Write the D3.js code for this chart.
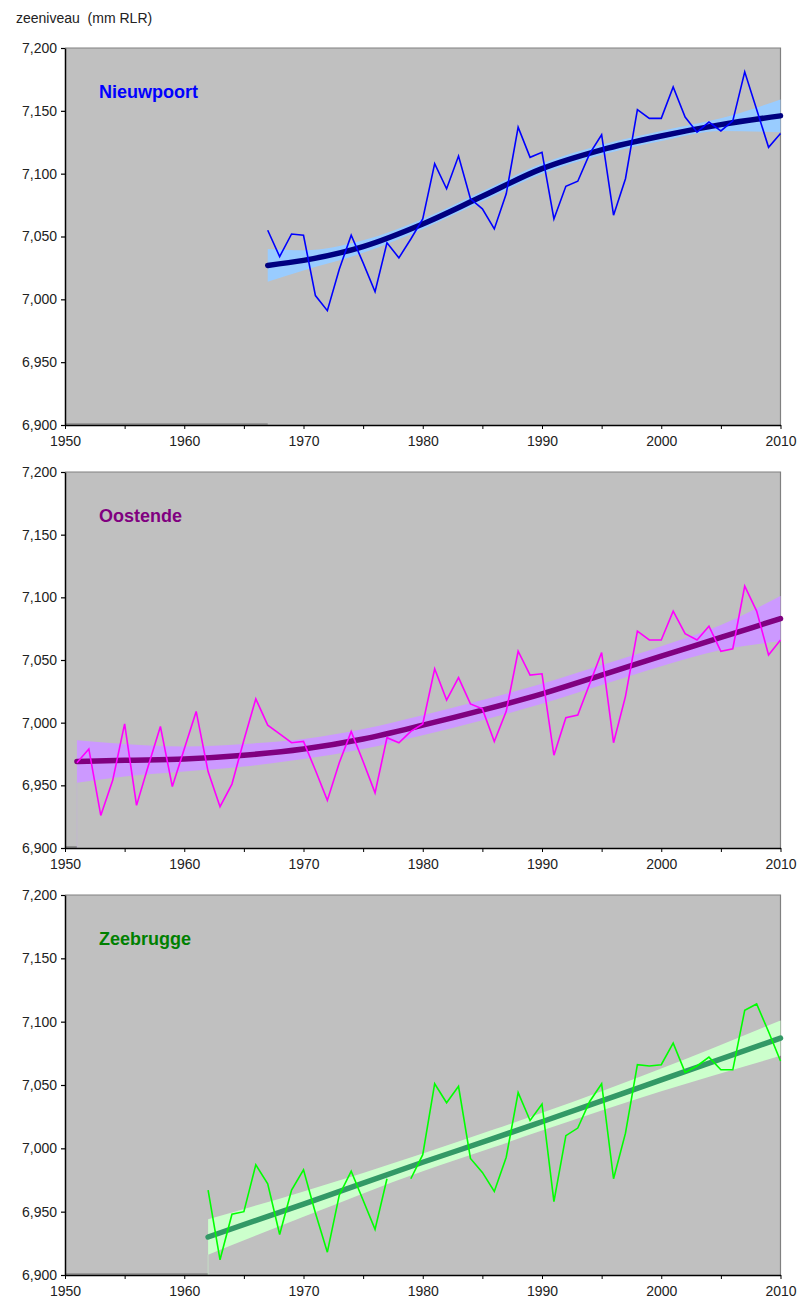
<!DOCTYPE html>
<html><head><meta charset="utf-8">
<script src="https://cdn.jsdelivr.net/npm/d3@7"></script>
<style>
body{margin:0;background:#fff}
svg{display:block}
text{font-family:"Liberation Sans",Arial,sans-serif}
</style>
</head><body>
<svg id="chart" width="798" height="1298"></svg>
<script>
// ---------- data ----------
const yAxisTitle = "zeeniveau\u00A0\u00A0(mm RLR)";
const xTickValues = [1950,1955,1960,1965,1970,1975,1980,1985,1990,1995,2000,2005,2010];
const xLabelValues = [1950,1960,1970,1980,1990,2000,2010];
const yTickValues = [6900,6950,7000,7050,7100,7150,7200];
const stationNames = ["Nieuwpoort","Oostende","Zeebrugge"];

// yearly mean sea level (mm RLR)
const nieuwpoortStart = 1967;
const nieuwpoortValues = [7055,7034,7052,7051,7003,6991,7024,7051,7029,7006,
  7045,7033,7048,7064,7108,7088,7114,7080,7072,7056,
  7084,7137,7113,7117,7064,7090,7094,7116,7131,7067,
  7096,7151,7144,7144,7169,7145,7133,7141,7134,7142,
  7181,7151,7121,7132];

const oostendeStart = 1951;
const oostendeValues = [6968,6979,6926,6954,6999,6934,6966,6997,6949,6979,
  7009,6961,6933,6951,6986,7019,6998,6991,6984,6985,
  6962,6938,6968,6993,6969,6944,6988,6984,6993,6999,
  7043,7018,7036,7015,7011,6985,7009,7057,7038,7039,
  6974,7004,7006,7031,7056,6984,7021,7073,7066,7066,
  7089,7071,7066,7077,7057,7059,7109,7089,7054,7066];

const zeebruggeStart = 1962;
const zeebruggeValues = [6967,6912,6948,6950,6987,6972,6932,6967,6983,6949,
  6918,6963,6982,6959,6936,6976,null,6976,6995,7051,
  7036,7049,6992,6981,6966,6993,7044,7022,7035,6958,
  7010,7016,7037,7051,6976,7012,7066,7065,7066,7083,
  7060,7065,7072,7062,7062,7109,7114,7092,7069];

// fitted trend with confidence band (read at knot years)
const nieuwpoortTrendYears = [1967,1970,1975,1980,1985,1990,1995,2000,2005,2010];
const nieuwpoortTrend      = [7027,7031,7042,7060,7082,7104,7119,7130,7139,7146];
const nieuwpoortLower      = [7014,7023,7037,7056,7078,7100,7115,7126,7134,7133];
const nieuwpoortUpper      = [7040,7039,7047,7064,7086,7108,7123,7134,7144,7159];

const oostendeTrendYears = [1951,1955,1960,1965,1970,1975,1980,1985,1990,1995,2000,2005,2010];
const oostendeTrend      = [6969,6970,6971,6974,6979,6987,6998,7010,7023,7038,7053,7068,7083];
const oostendeLower      = [6952,6957,6961,6965,6971,6979,6990,7002,7015,7030,7045,7058,7065];
const oostendeUpper      = [6986,6983,6981,6983,6987,6995,7006,7018,7031,7046,7061,7078,7101];

const zeebruggeTrendYears = [1962,1970,1980,1986,1990,2000,2010];
const zeebruggeTrend      = [6930,6956,6989,7008,7021,7054,7087];
const zeebruggeLower      = [6916,6946,6982,7001,7014,7045,7073];
const zeebruggeUpper      = [6944,6966,6996,7015,7028,7063,7101];

// ---------- layout / style ----------
const xLeft = 65, xRight = 780.5;
const panelBoxes = [{top:48,bottom:425},{top:472,bottom:848},{top:895,bottom:1275}];
const styles = [
  {line:"#0000FF", trend:"#000080", band:"#99CCFF", title:"#0000FF", ghost:0},
  {line:"#FF00FF", trend:"#800080", band:"#CC99FF", title:"#800080", ghost:0.15},
  {line:"#00FF00", trend:"#339966", band:"#CCFFCC", title:"#008000", ghost:0.3}
];

const seriesList = [
  {name:stationNames[0], start:nieuwpoortStart, values:nieuwpoortValues,
   tY:nieuwpoortTrendYears, t:nieuwpoortTrend, lo:nieuwpoortLower, hi:nieuwpoortUpper},
  {name:stationNames[1], start:oostendeStart, values:oostendeValues,
   tY:oostendeTrendYears, t:oostendeTrend, lo:oostendeLower, hi:oostendeUpper},
  {name:stationNames[2], start:zeebruggeStart, values:zeebruggeValues,
   tY:zeebruggeTrendYears, t:zeebruggeTrend, lo:zeebruggeLower, hi:zeebruggeUpper}
];

const svg = d3.select("#chart");

svg.append("text").attr("x",16).attr("y",23)
  .attr("font-size",14).attr("fill","#222").text(yAxisTitle);

const x = d3.scaleLinear().domain([1950,2010]).range([xLeft,xRight]);

seriesList.forEach((s,i)=>{
  const box = panelBoxes[i], st = styles[i];
  const y = d3.scaleLinear().domain([6900,7200]).range([box.bottom,box.top]);
  const g = svg.append("g");

  g.append("rect").attr("x",xLeft).attr("y",box.top)
    .attr("width",xRight-xLeft).attr("height",box.bottom-box.top).attr("fill","#C0C0C0");
  g.append("path").attr("d",`M${xLeft},${box.top}H${xRight}V${box.bottom}`)
    .attr("fill","none").attr("stroke","#808080").attr("stroke-width",1.2);

  // artefacts of the stacked band series
  g.append("line").attr("x1",xLeft).attr("x2",x(s.start))
    .attr("y1",box.bottom-1).attr("y2",box.bottom-1)
    .attr("stroke","#707070").attr("stroke-width",1.2);
  g.append("line").attr("x1",x(s.start)).attr("x2",x(s.start))
    .attr("y1",y(s.lo[0])).attr("y2",box.bottom)
    .attr("stroke",st.band).attr("stroke-opacity",st.ghost).attr("stroke-width",1.5);

  const band = s.tY.map((yr,k)=>({yr, lo:s.lo[k], hi:s.hi[k], t:s.t[k]}));
  g.append("path").datum(band)
    .attr("d", d3.area().x(d=>x(d.yr)).y0(d=>y(d.lo)).y1(d=>y(d.hi)).curve(d3.curveMonotoneX))
    .attr("fill",st.band);
  g.append("path").datum(band)
    .attr("d", d3.line().x(d=>x(d.yr)).y(d=>y(d.t)).curve(d3.curveMonotoneX))
    .attr("fill","none").attr("stroke",st.trend).attr("stroke-width",5.5)
    .attr("stroke-linecap","round");

  const pts = s.values.map((v,k)=>({yr:s.start+k, v}));
  g.append("path").datum(pts)
    .attr("d", d3.line().defined(d=>d.v!==null).x(d=>x(d.yr)).y(d=>y(d.v)))
    .attr("fill","none").attr("stroke",st.line).attr("stroke-width",1.6)
    .attr("stroke-linejoin","miter");

  g.append("text").attr("x",99).attr("y",box.top+50)
    .attr("font-size",18).attr("font-weight","bold").attr("fill",st.title).text(s.name);

  const ya = g.append("g").attr("transform",`translate(${xLeft},0)`)
    .call(d3.axisLeft(y).tickValues(yTickValues).tickSize(4).tickSizeOuter(0).tickPadding(4)
      .tickFormat(d3.format(",")));
  ya.select(".domain").attr("stroke","#000").attr("stroke-width",1.5);
  ya.selectAll(".tick line").attr("stroke","#000").attr("stroke-width",1.2);
  ya.selectAll(".tick text").attr("font-size",14).attr("fill","#222")
    .attr("font-family","Liberation Sans, Arial, sans-serif");

  const xa = g.append("g").attr("transform",`translate(0,${box.bottom})`)
    .call(d3.axisBottom(x).tickValues(xTickValues).tickSize(4).tickSizeOuter(0).tickPadding(7)
      .tickFormat(d=>xLabelValues.includes(d)?d3.format("d")(d):""));
  xa.select(".domain").attr("stroke","#000").attr("stroke-width",1.5);
  xa.selectAll(".tick line").attr("stroke","#000").attr("stroke-width",1);
  xa.selectAll(".tick text").attr("font-size",14).attr("fill","#222")
    .attr("font-family","Liberation Sans, Arial, sans-serif");
});
</script>
</body></html>
